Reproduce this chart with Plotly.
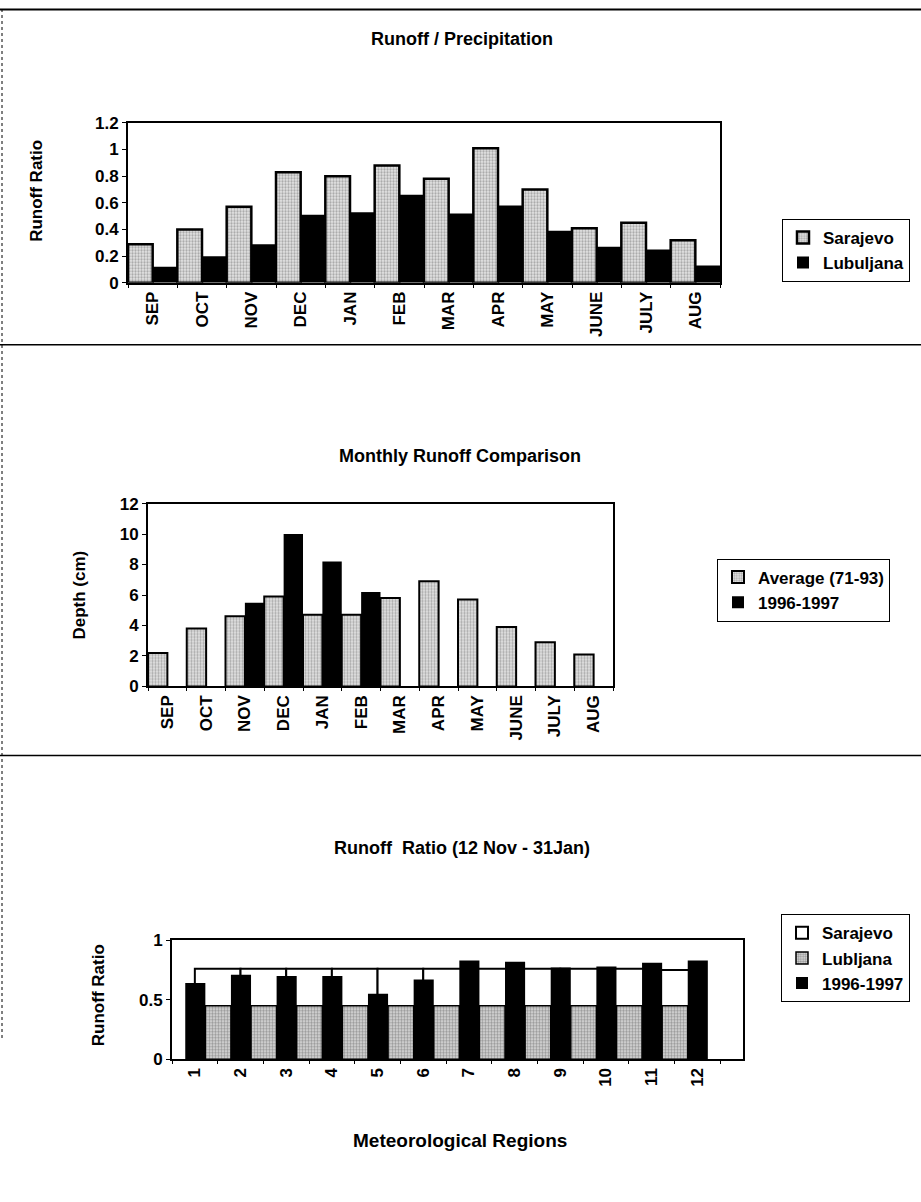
import plotly.graph_objects as go

W, H = 921, 1202

def px(x):
    return x / W

def py(y):
    # page pixel (as seen in the reference) -> paper fraction, with a small
    # correction for the vertical offset/scale of the captured page
    yy = max((y - 8) / 0.985, 0)
    return 1 - yy / H

# ---------------- data ----------------
months = ["SEP", "OCT", "NOV", "DEC", "JAN", "FEB", "MAR", "APR", "MAY", "JUNE", "JULY", "AUG"]

# Chart 1: Runoff / Precipitation
sarajevo_ratio = [0.29, 0.40, 0.57, 0.83, 0.80, 0.88, 0.78, 1.01, 0.70, 0.41, 0.45, 0.32]
lubuljana_ratio = [0.12, 0.20, 0.29, 0.51, 0.53, 0.66, 0.52, 0.58, 0.39, 0.27, 0.25, 0.13]

# Chart 2: Monthly Runoff Comparison
average_7193 = [2.2, 3.8, 4.6, 5.9, 4.7, 4.7, 5.8, 6.9, 5.7, 3.9, 2.9, 2.1]
runoff_9697 = [None, None, 5.5, 10.0, 8.2, 6.2, None, None, None, None, None, None]

# Chart 3: Runoff Ratio (12 Nov - 31Jan)
regions = ["1", "2", "3", "4", "5", "6", "7", "8", "9", "10", "11", "12"]
sarajevo_reg = [0.76, 0.76, 0.76, 0.76, 0.76, 0.76, 0.76, 0.76, 0.76, 0.76, 0.75, None]
lubljana_reg = [0.45, 0.45, 0.45, 0.45, 0.45, 0.45, 0.45, 0.45, 0.45, 0.45, 0.45, None]
ratio_9697 = [0.64, 0.71, 0.70, 0.70, 0.55, 0.67, 0.83, 0.82, 0.77, 0.78, 0.81, 0.83]

FONT = "Liberation Sans"
BOLD = dict(family=FONT, size=17, color="black", weight="bold")
STIPPLE = dict(shape=".", fgcolor="#6e6e6e", bgcolor="#e4e4e4", size=3, solidity=0.45)

fig = go.Figure()

# ---- chart 1 ----
fig.add_trace(go.Bar(x=months, y=sarajevo_ratio, name="Sarajevo", xaxis="x", yaxis="y",
                     offset=-0.5, width=0.5, marker=dict(color="#d8d8d8", pattern=STIPPLE,
                     line=dict(color="black", width=2.5)), legend="legend"))
fig.add_trace(go.Bar(x=months, y=lubuljana_ratio, name="Lubuljana", xaxis="x", yaxis="y",
                     offset=0.0, width=0.5, marker=dict(color="black", line=dict(color="black", width=0)),
                     legend="legend"))

# ---- chart 2 ----
fig.add_trace(go.Bar(x=months, y=average_7193, name="Average (71-93)", xaxis="x2", yaxis="y2",
                     offset=-0.5, width=0.5, marker=dict(color="#d8d8d8", pattern=STIPPLE,
                     line=dict(color="black", width=2)), legend="legend2"))
fig.add_trace(go.Bar(x=months, y=runoff_9697, name="1996-1997", xaxis="x2", yaxis="y2",
                     offset=0.0, width=0.5, marker=dict(color="black", line=dict(color="black", width=0)),
                     legend="legend2"))

# ---- chart 3 ----
fig.add_trace(go.Bar(x=regions, y=sarajevo_reg, name="Sarajevo", xaxis="x3", yaxis="y3",
                     offset=0.0, width=1.0, marker=dict(color="white", line=dict(color="black", width=2)),
                     legend="legend3"))
fig.add_trace(go.Bar(x=regions, y=lubljana_reg, name="Lubljana", xaxis="x3", yaxis="y3",
                     offset=0.23, width=0.56, marker=dict(color="#d0d0d0",
                     pattern=dict(shape=".", fgcolor="#555555", bgcolor="#dcdcdc", size=3, solidity=0.5),
                     line=dict(color="black", width=1.5)), legend="legend3"))
fig.add_trace(go.Bar(x=regions, y=ratio_9697, name="1996-1997", xaxis="x3", yaxis="y3",
                     offset=-0.21, width=0.44, marker=dict(color="black", line=dict(color="black", width=0)),
                     legend="legend3"))

axis_common = dict(showline=True, linecolor="black", linewidth=2, mirror=True, showgrid=False,
                   zeroline=False, tickfont=BOLD, ticks="outside", tickcolor="black", ticklen=4)

xcat = dict(axis_common, type="category", tickson="boundaries", tickangle=-90, ticklen=3)

leg = dict(xanchor="left", yanchor="top", bordercolor="black", borderwidth=1, font=BOLD,
           bgcolor="white", tracegroupgap=0, itemwidth=30)

fig.update_layout(
    width=W, height=H,
    margin=dict(l=0, r=0, t=0, b=0),
    paper_bgcolor="white", plot_bgcolor="white",
    barmode="overlay",
    font=dict(family=FONT, color="black"),
    xaxis=dict(xcat, domain=[px(128), px(720)], anchor="y"),
    yaxis=dict(axis_common, domain=[py(282), py(122)], anchor="x", range=[0, 1.2], dtick=0.2,
               tickformat="~g"),
    xaxis2=dict(xcat, domain=[px(148), px(613)], anchor="y2"),
    yaxis2=dict(axis_common, domain=[py(686), py(503)], anchor="x2", range=[0, 12], dtick=2),
    xaxis3=dict(xcat, domain=[px(172), px(743)], anchor="y3", tickangle=-90),
    yaxis3=dict(axis_common, domain=[py(1059), py(940)], anchor="x3", range=[0, 1], dtick=0.5,
                tickformat="~g"),
    legend=dict(leg, x=px(782), y=py(218)),
    legend2=dict(leg, x=px(717), y=py(558)),
    legend3=dict(leg, x=px(781), y=py(914)),
    showlegend=True,
)

texts = [
    ("Runoff / Precipitation", 462, 38, 0, 18),
    ("Monthly Runoff Comparison", 460, 455, 0, 18),
    ("Runoff  Ratio (12 Nov - 31Jan)", 462, 848, 0, 18),
    ("Runoff Ratio", 37, 190, -90, 17),
    ("Depth (cm)", 80, 595, -90, 17),
    ("Runoff Ratio", 98, 995, -90, 17),
    ("Meteorological Regions", 460, 1140, 0, 19),
]
for txt, x, y, ang, sz in texts:
    fig.add_annotation(text=txt, x=px(x), y=py(y), xref="paper", yref="paper", showarrow=False,
                       xanchor="center", yanchor="middle", textangle=ang,
                       font=dict(family=FONT, size=sz, color="black", weight="bold"))

# page separator lines of the scanned sheet
for y in (344, 755):
    fig.add_shape(type="line", xref="paper", yref="paper", x0=0, x1=1, y0=py(y), y1=py(y),
                  line=dict(color="black", width=1.5))
fig.add_shape(type="line", xref="paper", yref="paper", x0=0, x1=1, y0=0.9995, y1=0.9995,
              line=dict(color="black", width=2))
fig.add_shape(type="line", xref="paper", yref="paper", x0=px(2), x1=px(2), y0=1, y1=py(1040),
              line=dict(color="black", width=1, dash="dot"))

fig.write_html(
    "out.html",
    config={"displayModeBar": False},
    post_script=(
        "document.documentElement.style.overflow='hidden';"
        "document.body.style.margin='0px';document.body.style.padding='0px';"
        "document.body.style.overflow='hidden';"
        "var gd=document.getElementById('{plot_id}');"
        "gd.style.position='fixed';gd.style.top='0px';gd.style.left='0px';"
    ),
)
